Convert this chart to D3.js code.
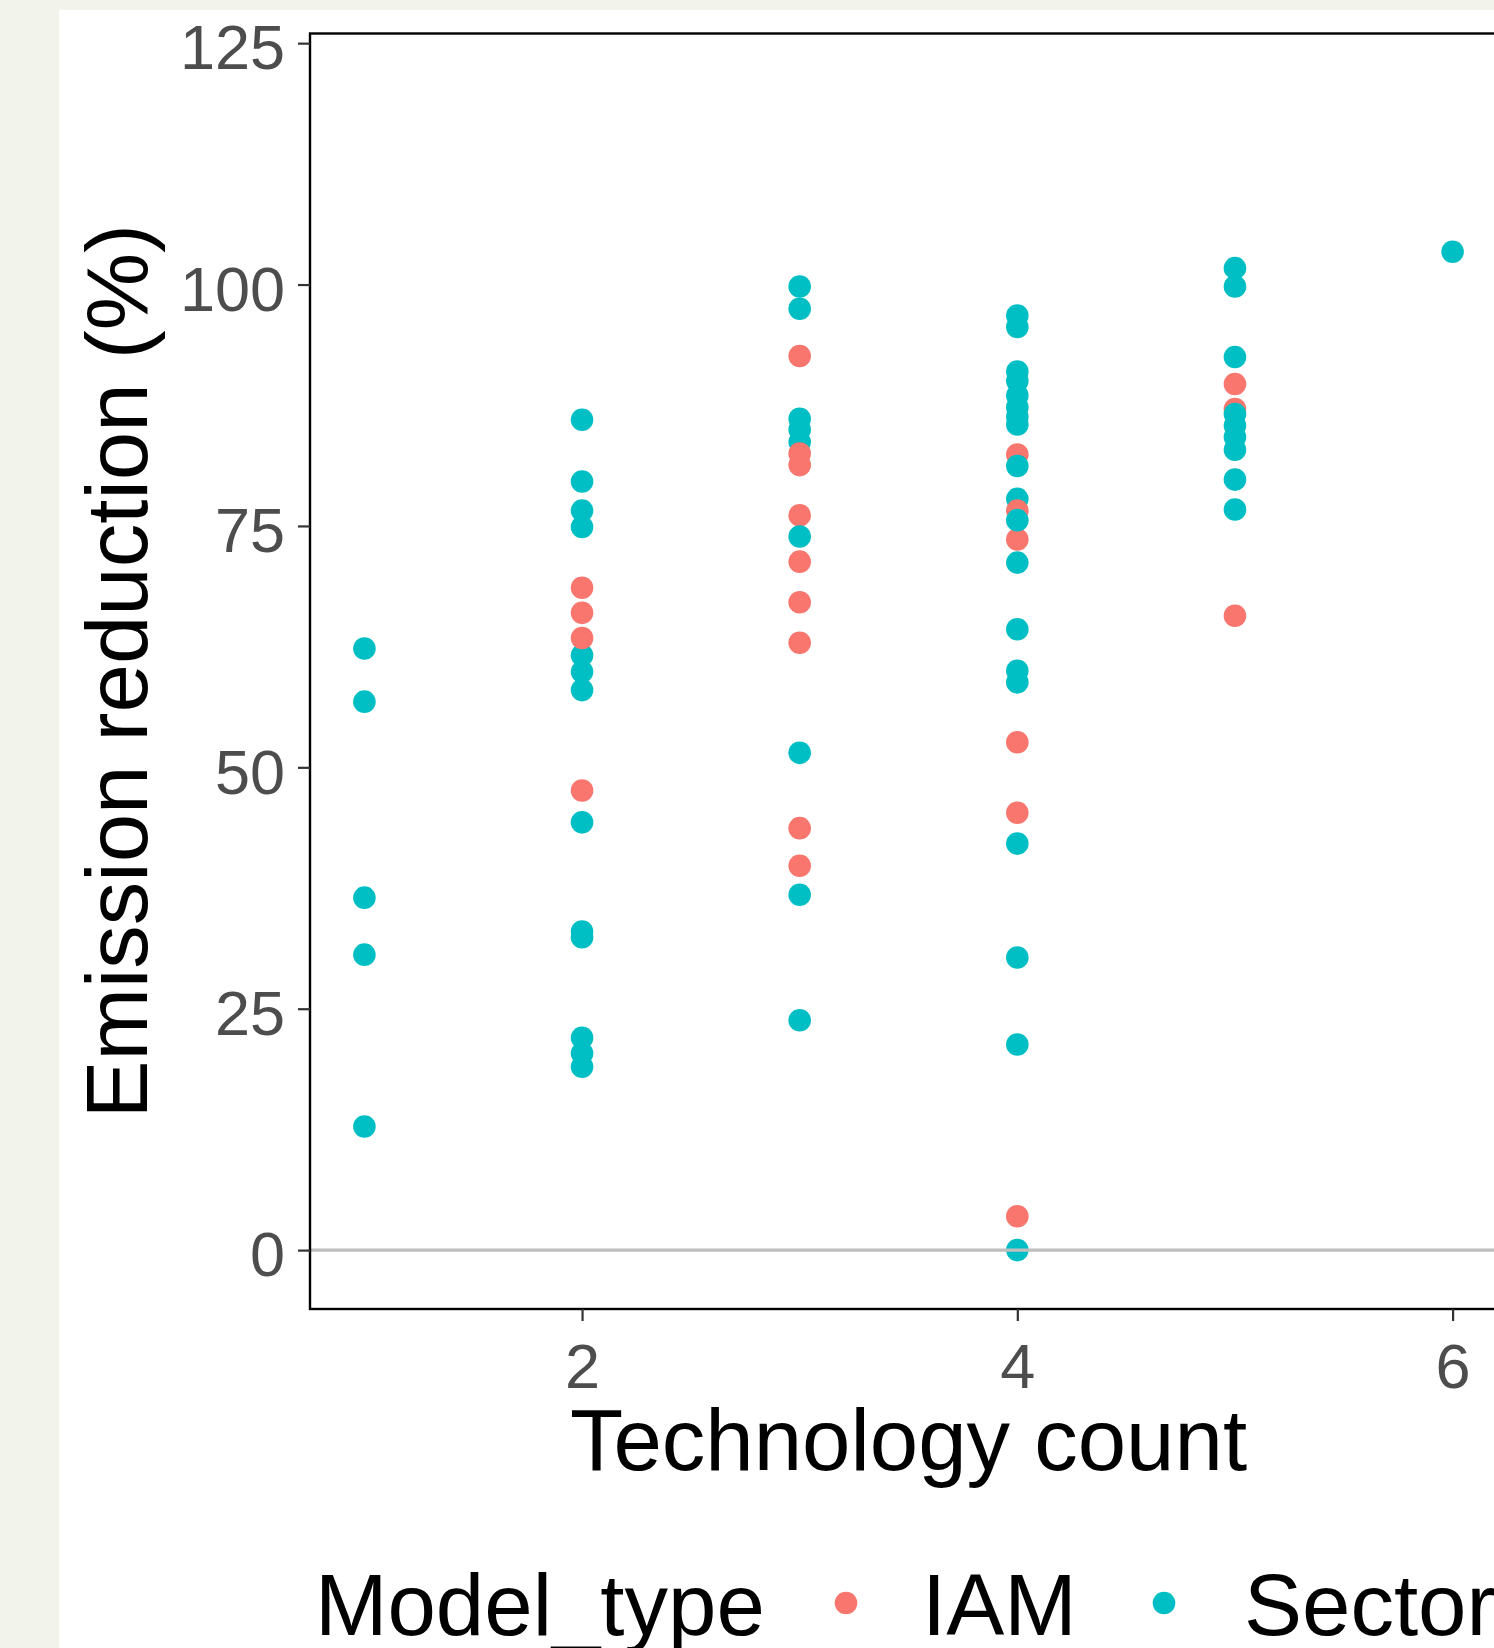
<!DOCTYPE html>
<html>
<head>
<meta charset="utf-8">
<script src="https://cdn.jsdelivr.net/npm/d3@7"></script>
<style>
  html, body { margin: 0; padding: 0; background: #f2f4ec; }
  svg { display: block; font-family: "Liberation Sans", Arial, sans-serif; }
</style>
</head>
<body>
<svg id="chart"></svg>
<script>
// Data, in the order the points are drawn
const techCount = [
  1, 1, 1, 1, 1,
  2, 2, 2, 2, 2, 2, 2, 2, 2, 2, 2, 2, 2, 2, 2, 2, 2,
  3, 3, 3, 3, 3, 3, 3, 3, 3, 3, 3, 3, 3, 3, 3, 3, 3, 3,
  4, 4, 4, 4, 4, 4, 4, 4, 4, 4, 4, 4, 4, 4, 4, 4, 4, 4, 4, 4, 4, 4, 4, 4, 4,
  5, 5, 5, 5, 5, 5, 5, 5, 5, 5, 5, 5,
  6
];
const reduction = [
  62.3, 56.8, 36.5, 30.6, 12.8,
  86.0, 79.6, 76.6, 74.9, 68.6, 66.0, 61.6, 59.9, 58.0, 63.4, 47.6, 44.3, 33.0, 32.4, 22.0, 20.4, 19.0,
  99.8, 97.5, 92.6, 86.1, 85.0, 83.7, 82.5, 81.3, 76.1, 73.9, 71.3, 67.1, 62.9, 51.5, 43.7, 39.8, 36.8, 23.8,
  96.8, 95.6, 91.0, 90.0, 88.5, 87.3, 86.3, 85.5, 82.4, 81.2, 77.8, 73.6, 76.6, 75.6, 71.2, 64.3, 60.0, 58.8, 52.6, 45.3, 42.1, 30.3, 21.3, 3.5, 0.0,
  101.7, 99.8, 92.5, 89.7, 87.1, 86.6, 85.4, 84.2, 82.9, 79.8, 76.7, 65.7,
  103.4
];
const modelType = [
  "Sector", "Sector", "Sector", "Sector", "Sector",
  "Sector", "Sector", "Sector", "Sector", "IAM", "IAM", "Sector", "Sector", "Sector", "IAM", "IAM", "Sector", "Sector", "Sector", "Sector", "Sector", "Sector",
  "Sector", "Sector", "IAM", "Sector", "Sector", "Sector", "IAM", "IAM", "IAM", "Sector", "IAM", "IAM", "IAM", "Sector", "IAM", "IAM", "Sector", "Sector",
  "Sector", "Sector", "Sector", "Sector", "Sector", "Sector", "Sector", "Sector", "IAM", "Sector", "Sector", "IAM", "IAM", "Sector", "Sector", "Sector", "Sector", "Sector", "IAM", "IAM", "Sector", "Sector", "Sector", "IAM", "Sector",
  "Sector", "Sector", "Sector", "IAM", "IAM", "Sector", "Sector", "Sector", "Sector", "Sector", "Sector", "IAM",
  "Sector"
];
const modelTypes = ["IAM", "Sector"];
const typeColors = ["#F8766D", "#00BFC4"];
const xTicks = [2, 4, 6];
const yTicks = [0, 25, 50, 75, 100, 125];

const width = 1494, height = 1648;
const panel = { left: 310, top: 33.5, right: 1507, bottom: 1309 };

const svg = d3.select("#chart")
  .attr("width", width)
  .attr("height", height)
  .attr("viewBox", `0 0 ${width} ${height}`);

// page background, then the white plot area
svg.append("rect").attr("width", width).attr("height", height).attr("fill", "#f2f4ec");
svg.append("rect").attr("x", 59).attr("y", 10)
  .attr("width", width - 59).attr("height", height - 10).attr("fill", "#ffffff");

const x = d3.scaleLinear().domain([0.75, 6.25]).range([panel.left, panel.right]);
const y = d3.scaleLinear().domain([-6.1, 126]).range([panel.bottom, panel.top]);
const color = d3.scaleOrdinal().domain(modelTypes).range(typeColors);

const points = techCount.map((d, i) => ({ count: d, value: reduction[i], type: modelType[i] }));

// points
svg.append("g")
  .selectAll("circle")
  .data(points)
  .enter()
  .append("circle")
  .attr("cx", d => x(d.count))
  .attr("cy", d => y(d.value))
  .attr("r", 11.3)
  .attr("fill", d => color(d.type));

// zero line
svg.append("line")
  .attr("x1", panel.left).attr("x2", panel.right)
  .attr("y1", y(0)).attr("y2", y(0))
  .attr("stroke", "#bebebe")
  .attr("stroke-width", 3.4);

// panel border
svg.append("rect")
  .attr("x", panel.left).attr("y", panel.top)
  .attr("width", panel.right - panel.left)
  .attr("height", panel.bottom - panel.top)
  .attr("fill", "none")
  .attr("stroke", "#000")
  .attr("stroke-width", 2.4);

// Y axis
const yAxis = svg.append("g")
  .attr("transform", `translate(${panel.left},0)`)
  .call(d3.axisLeft(y).tickValues(yTicks).tickFormat(d3.format("d")).tickSize(12).tickPadding(13));
yAxis.select(".domain").remove();
yAxis.selectAll(".tick line").attr("stroke", "#333333").attr("stroke-width", 2.2);
yAxis.selectAll(".tick text")
  .attr("fill", "#4d4d4d")
  .attr("font-size", 63)
  .attr("font-family", "Liberation Sans, Arial, sans-serif")
  .attr("dy", "0.41em");

// X axis
const xAxis = svg.append("g")
  .attr("transform", `translate(0,${panel.bottom})`)
  .call(d3.axisBottom(x).tickValues(xTicks).tickFormat(d3.format("d")).tickSize(12).tickPadding(22));
xAxis.select(".domain").remove();
xAxis.selectAll(".tick line").attr("stroke", "#333333").attr("stroke-width", 2.2);
xAxis.selectAll(".tick text")
  .attr("fill", "#4d4d4d")
  .attr("font-size", 63)
  .attr("font-family", "Liberation Sans, Arial, sans-serif");

// axis titles
svg.append("text")
  .attr("x", (panel.left + panel.right) / 2)
  .attr("y", 1470)
  .attr("text-anchor", "middle")
  .attr("font-size", 87)
  .attr("fill", "#000")
  .text("Technology count");

svg.append("text")
  .attr("transform", `translate(147,${(panel.top + panel.bottom) / 2}) rotate(-90)`)
  .attr("text-anchor", "middle")
  .attr("font-size", 87)
  .attr("fill", "#000")
  .text("Emission reduction (%)");

// legend
const legend = svg.append("g");
legend.append("text")
  .attr("x", 315).attr("y", 1635)
  .attr("font-size", 87)
  .attr("fill", "#000")
  .text("Model_type");

const keyX = [846, 1164];
const labelX = [922, 1244];
modelTypes.forEach((t, i) => {
  legend.append("circle")
    .attr("cx", keyX[i]).attr("cy", 1603)
    .attr("r", 11.3)
    .attr("fill", color(t));
  legend.append("text")
    .attr("x", labelX[i]).attr("y", 1635)
    .attr("font-size", 87)
    .attr("fill", "#000")
    .text(t);
});
</script>
</body>
</html>
